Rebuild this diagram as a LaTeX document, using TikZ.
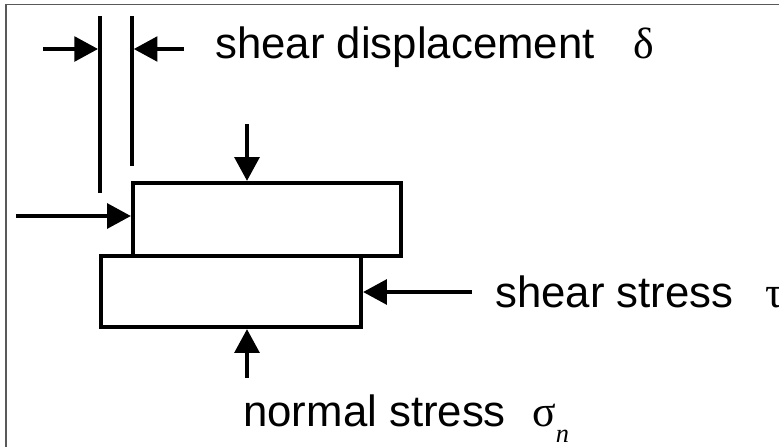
\documentclass[tikz,border=0pt]{standalone}
\usepackage{fontspec}
\setmainfont{Liberation Sans}
\newfontfamily\greekfont{Liberation Serif}
\usetikzlibrary{arrows.meta}

\tikzset{
  force/.style={-{Triangle[length=13.5pt,width=14pt]},line width=2.2pt},
  txt/.style={font=\fontsize{24.9}{30}\selectfont,inner sep=0pt,anchor=base west},
  block/.style={draw,rectangle,line width=2.4pt,inner sep=0pt}
}

\begin{document}
\begin{tikzpicture}[x=0.02cm,y=-0.02cm]

      \useasboundingbox (0,0) rectangle (779,447);
      \draw[black!65,line width=0.9pt] (6,447) -- (6,4.5) -- (779,4.5);

      \begin{scope}[every node/.style={block}]
        \node[minimum width=5.36cm,minimum height=1.46cm] (upper) at (267,219.5) {};
        \node[minimum width=5.2cm,minimum height=1.42cm] (lower) at (231,291.5) {};
      \end{scope}

      % displacement marks
      \coordinate (mleft) at (100,16);
      \coordinate (mleftend) at (100,193);
      \coordinate (mright) at (132,16);
      \coordinate (mrightend) at (132,166);
      \draw[line width=2.3pt] (mleft) -- (mleftend);
      \draw[line width=2.1pt] (mright) -- (mrightend);

      \coordinate (dl) at (43,49);
      \coordinate (dr) at (184,49);
      \coordinate (lin) at (16,216);
      \coordinate (tin) at (247,124);
      \coordinate (bin) at (247,378);
      \coordinate (rin) at (472,292);

      \begin{scope}[every edge/.style={draw,force}]
        \path (dl) edge[shorten >=1.1pt] (dl -| mleft);
        \path (dr) edge[shorten >=1pt] (dr -| mright);
        \path (lin) edge (lin -| upper.west);
        \path (tin) edge (tin |- upper.north);
        \path (bin) edge (bin |- lower.south);
        \path (rin) edge (rin -| lower.east);
      \end{scope}

      \begin{scope}[every node/.style={txt}]
        \node (dtext) at (215,58) {shear displacement};
        \node (dsym) at (633,58) {\greekfont δ};
        \node (ttext) at (495,307) {shear stress};
        \node (tsym) at (765,307) {\greekfont τ};
        \node (ntext) at (243,426) {normal stress};
        \node (nsym) at (532,426) {\greekfont σ\raisebox{-0.37em}{\fontsize{15}{18}\selectfont\itshape n}};
      \end{scope}

    \end{tikzpicture}
\end{document}
